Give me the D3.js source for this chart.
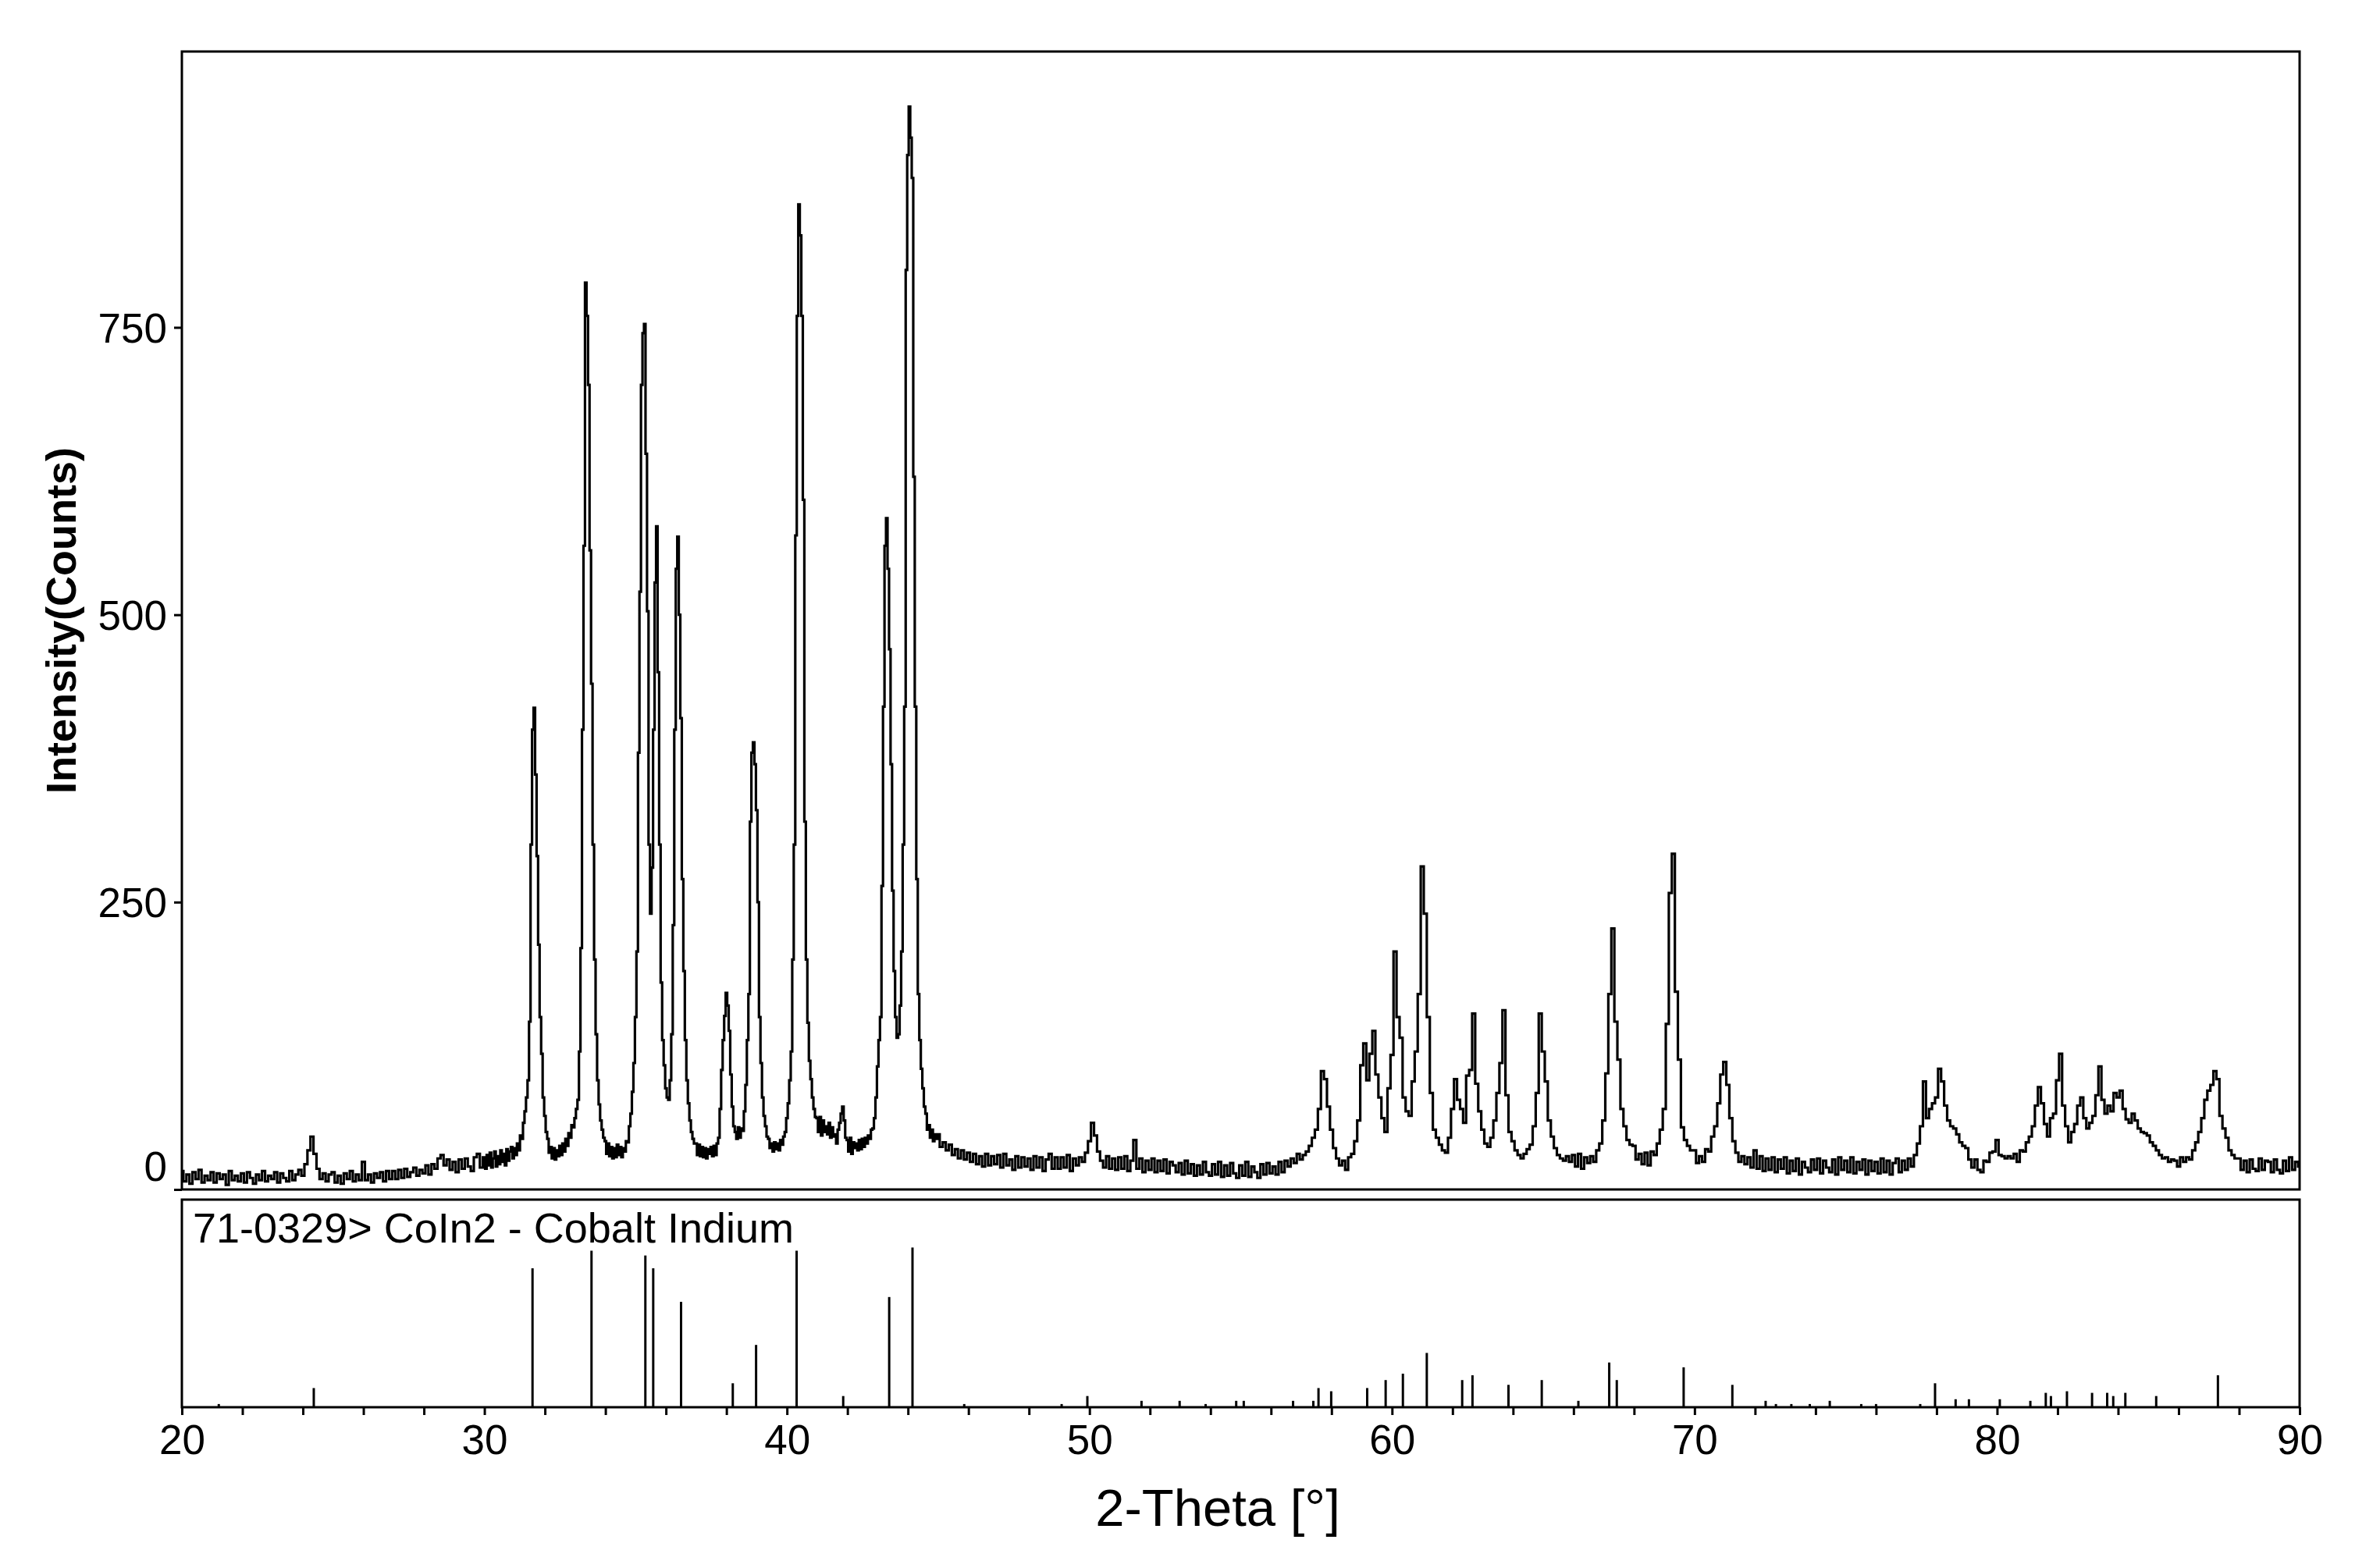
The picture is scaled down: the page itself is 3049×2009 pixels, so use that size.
<!DOCTYPE html>
<html>
<head>
<meta charset="utf-8">
<script src="https://cdn.jsdelivr.net/npm/d3@7"></script>
<style>
html, body { margin: 0; padding: 0; background: #ffffff; }
svg { display: block; }
text { font-family: "Liberation Sans", Arial, sans-serif; fill: #000; }
</style>
</head>
<body>
<svg id="chart" width="3049" height="2009"></svg>
<script>
// ---------------- DATA ----------------
// Measured scan, 20.0 - 29.9 deg, step 0.1
const scanAStart = 20.0, scanAStep = 0.1;
const scanA = [
  16,7,13,5,15,9,17,6,12,8,
  15,6,14,9,13,4,16,8,12,7,
  14,6,15,10,5,13,8,16,7,12,
  9,15,6,14,10,7,16,8,13,17,
  12,22,34,46,31,18,9,14,7,13,
  15,6,12,5,14,9,16,7,13,8,
  24,8,13,6,14,10,15,7,16,9,
  16,9,17,10,18,11,15,19,12,17,
  14,21,13,22,18,27,30,21,26,17,
  24,15,26,18,27,20,16,28,31,19
];
// Measured scan, 30.00 - 44.95 deg, step 0.05
const scanBStart = 30.0, scanBStep = 0.05;
const scanB = [
  28,18,30,21,32,19,27,33,20,29,22,34,24,31,21,35,25,33,37,27,
  36,30,40,34,47,44,58,68,80,95,146,300,400,419,361,290,213,150,118,80,
  64,50,44,32,37,27,36,26,34,29,38,30,40,33,44,38,49,45,56,54,
  62,70,78,120,210,400,560,789,760,700,556,440,300,200,135,95,74,60,52,45,
  42,31,40,29,37,27,36,28,39,30,37,28,36,33,42,41,55,66,85,110,
  150,207,380,520,700,745,753,640,503,300,240,280,400,528,577,450,300,180,130,108,
  88,80,78,95,135,230,400,540,568,500,410,270,190,130,95,75,60,50,44,40,
  40,30,39,29,37,28,36,27,35,31,37,29,38,30,40,45,70,104,130,151,
  171,160,138,100,72,55,50,44,54,45,53,51,68,91,130,170,320,380,389,370,
  330,250,150,110,80,64,55,46,44,36,40,33,41,35,40,34,43,39,46,50,
  62,75,95,120,200,300,569,760,857,830,760,600,320,200,145,112,96,80,70,63,
  62,50,63,47,60,50,55,48,58,45,54,46,48,40,52,58,66,72,60,45,
  43,33,45,31,41,36,40,34,43,35,44,37,45,40,47,44,52,53,62,80,
  107,130,150,264,420,560,584,540,470,370,260,190,150,132,135,160,207,300,420,800,
  900,942,915,880,620,420,270,170,130,105,88,72,66,52,56,45,52,42,48,44
];
// Measured scan, 45.0 - 90.0 deg, step 0.1
const scanCStart = 45.0, scanCStep = 0.1;
const scanC = [
  48,37,41,34,39,30,35,27,34,26,
  32,24,31,22,29,20,31,21,29,22,
  30,19,31,21,26,17,29,19,28,20,
  27,17,29,19,28,16,26,31,18,28,
  18,28,19,30,16,27,21,28,24,32,
  42,58,47,33,25,19,29,18,27,17,
  28,18,29,16,25,43,18,27,15,25,
  17,27,15,25,16,26,14,24,21,15,
  23,13,25,14,22,12,21,13,24,15,
  12,22,13,24,11,21,12,23,14,10,
  21,12,24,11,20,15,10,22,13,23,
  14,20,13,24,15,25,20,27,23,31,
  26,30,33,38,45,52,70,103,96,72,
  52,36,27,21,25,17,28,31,42,60,
  108,127,95,118,138,100,80,62,50,88,
  117,207,150,132,80,68,64,94,120,170,
  281,240,150,84,52,45,39,34,32,45,
  70,96,78,70,58,99,104,153,92,68,
  52,40,37,45,60,84,110,156,82,50,
  42,34,30,27,31,35,39,55,84,153,
  120,94,60,46,36,30,27,25,29,24,
  30,20,31,18,28,23,29,24,34,40,
  60,101,170,227,146,113,70,55,43,39,
  38,26,31,22,32,21,33,30,40,52,
  70,144,258,292,172,113,54,43,38,34,
  34,23,29,24,35,33,46,55,75,100,
  111,91,62,42,32,24,29,22,28,19,
  34,18,29,16,27,17,28,15,26,18,
  28,14,25,16,27,13,24,19,15,26,
  17,27,14,25,19,15,26,13,28,17,
  25,15,28,14,24,17,26,13,25,16,
  24,14,27,15,25,13,23,27,15,25,
  17,27,20,30,40,55,94,62,70,75,
  80,105,94,73,60,55,53,48,41,38,
  36,26,19,26,17,15,25,24,32,33,
  43,30,29,27,29,27,31,24,34,33,
  41,46,55,73,89,75,57,46,62,66,
  95,118,73,55,41,50,57,73,80,62,
  53,58,64,82,107,78,66,73,68,84,
  80,86,70,61,58,66,60,53,50,49,
  47,41,38,34,30,27,28,24,26,25,
  20,28,24,28,26,34,41,50,62,78,
  86,91,103,96,64,53,45,34,30,27,
  27,17,25,15,26,18,16,27,17,25,
  24,15,26,17,14,25,16,28,17,24,
  20
];
// Reference pattern 71-0329 CoIn2: positions (2-theta) and relative intensities
const refAngles = [21.22,24.36,31.59,33.54,35.32,35.58,36.50,38.21,38.98,40.32,41.86,43.38,44.15,45.86,
  49.08,49.93,51.72,52.98,53.84,54.85,55.10,56.73,57.40,57.57,57.99,59.18,59.79,60.36,61.15,62.32,62.66,
  63.85,64.95,66.16,67.18,67.43,69.64,71.25,72.35,72.69,73.20,73.81,74.47,75.51,76.00,77.46,77.95,78.63,
  79.07,80.09,81.10,81.61,81.78,82.31,83.14,83.64,83.84,84.24,85.26,87.30];
const refIntensities = [2,12,87,98,95,87,66,15,39,98,7,69,100,2,
  2,7,4,4,2,4,4,4,4,12,10,12,17,21,34,17,20,
  14,17,4,28,17,25,14,4,2,2,2,4,2,2,2,15,5,
  5,5,4,9,7,10,9,9,7,9,7,20];
const xMajorTicks = [20,30,40,50,60,70,80,90];
const xMinorTicks = [22,24,26,28,32,34,36,38,42,44,46,48,52,54,56,58,62,64,66,68,72,74,76,78,82,84,86,88];
const yTicks = [0,250,500,750];
const xTitle = "2-Theta [°]";
const yTitle = "Intensity(Counts)";
const refLabel = "71-0329> CoIn2 - Cobalt Indium";

// ---------------- LAYOUT ----------------
const L = 233, R = 2946;
const mainTop = 66, mainBottom = 1524;
const subTop = 1537, subBottom = 1803;

const svg = d3.select("#chart");

const x = d3.scaleLinear().domain([20, 90]).range([L, R]);
const y = d3.scaleLinear().domain([0, 990]).range([mainBottom, mainTop]);
const y2 = d3.scaleLinear().domain([0, 130]).range([subBottom, subTop]);

function expand(start, step, arr) {
  return arr.map((v, i) => ({ t: start + i * step, v: v }));
}
const scan = [].concat(
  expand(scanAStart, scanAStep, scanA),
  expand(scanBStart, scanBStep, scanB),
  expand(scanCStart, scanCStep, scanC)
);

svg.append("defs").append("clipPath").attr("id", "clipMain")
  .append("rect").attr("x", L).attr("y", mainTop).attr("width", R - L).attr("height", mainBottom - mainTop);

// measured curve
const line = d3.line().x(d => x(d.t)).y(d => y(d.v)).curve(d3.curveStep);
svg.append("path")
  .datum(scan)
  .attr("clip-path", "url(#clipMain)")
  .attr("d", line)
  .attr("fill", "none")
  .attr("stroke", "#000")
  .attr("stroke-width", 3.2)
  .attr("stroke-linejoin", "miter");

// reference sticks
svg.append("g").selectAll("line")
  .data(refAngles.map((a, i) => ({ a: a, h: refIntensities[i] })))
  .join("line")
  .attr("x1", d => x(d.a)).attr("x2", d => x(d.a))
  .attr("y1", y2(0)).attr("y2", d => y2(d.h))
  .attr("stroke", "#000").attr("stroke-width", 3);

// frames
svg.append("rect").attr("x", L).attr("y", mainTop).attr("width", R - L).attr("height", mainBottom - mainTop)
  .attr("fill", "none").attr("stroke", "#000").attr("stroke-width", 3);
svg.append("rect").attr("x", L).attr("y", subTop).attr("width", R - L).attr("height", subBottom - subTop)
  .attr("fill", "none").attr("stroke", "#000").attr("stroke-width", 3);

// y axis
const yAxis = svg.append("g").attr("transform", `translate(${L},0)`)
  .call(d3.axisLeft(y).tickValues(yTicks).tickSize(10).tickPadding(9).tickFormat(d3.format("d")));
yAxis.select(".domain").remove();
yAxis.selectAll(".tick line").attr("stroke", "#000").attr("stroke-width", 3);
yAxis.selectAll(".tick text").attr("font-size", 53).attr("font-family", '"Liberation Sans", Arial, sans-serif')
  .attr("dy", "0.36em");
yAxis.selectAll(".tick text").filter(d => d === 0).attr("y", -31);

// x axis (bottom of reference panel)
const allX = xMajorTicks.concat(xMinorTicks).sort((a, b) => a - b);
const xAxis = svg.append("g").attr("transform", `translate(0,${subBottom})`)
  .call(d3.axisBottom(x).tickValues(allX).tickSize(10).tickPadding(12)
    .tickFormat(d => xMajorTicks.includes(d) ? String(d) : ""));
xAxis.select(".domain").remove();
xAxis.selectAll(".tick line").attr("stroke", "#000").attr("stroke-width", 3);
xAxis.selectAll(".tick text").attr("font-size", 53).attr("font-family", '"Liberation Sans", Arial, sans-serif')
  .attr("y", 60).attr("dy", null);

// titles
svg.append("text").attr("x", 1560).attr("y", 1955).attr("text-anchor", "middle")
  .attr("font-size", 67).text(xTitle);
svg.append("text").attr("transform", "translate(97,795) rotate(-90)").attr("text-anchor", "middle")
  .attr("font-size", 54).attr("font-weight", "bold").text(yTitle);
svg.append("text").attr("x", 247).attr("y", 1592).attr("font-size", 54).text(refLabel);
</script>
</body>
</html>
